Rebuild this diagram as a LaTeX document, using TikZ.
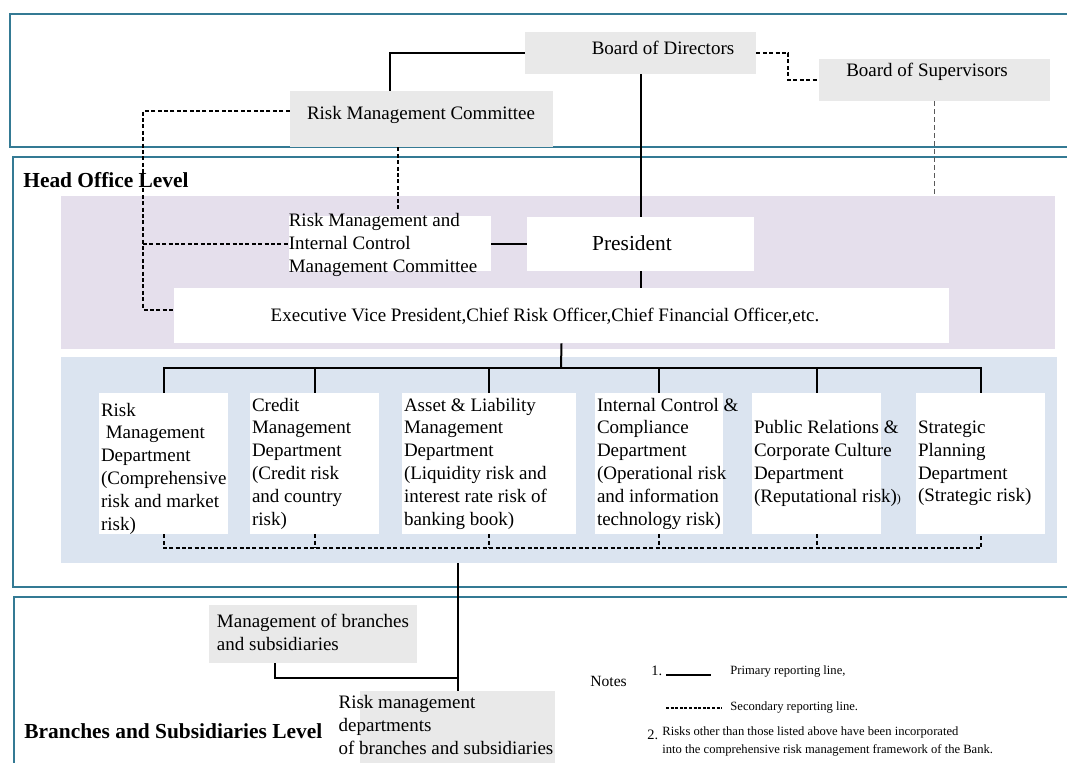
\documentclass[tikz,border=0pt]{standalone}
\usepackage{fontspec}
\setmainfont{Liberation Serif}
\usepackage{tikz}
\usetikzlibrary{fit,calc}
\definecolor{framec}{RGB}{52,122,148}
\definecolor{boxgray}{RGB}{233,233,233}
\definecolor{mauve}{RGB}{229,223,236}
\definecolor{paleblue}{RGB}{219,228,240}
\newcommand\unit[5]{\node[#1,fit={#3}] (#2) {}; \node[utext] (#2-t) at #4 {#5};}
\newcommand\dept[4][]{\node[dbox,fit={#3}] (#2) {}; \node[dtext,#1] (#2-t) at (#2.west) {#4};}

\begin{document}
\begin{tikzpicture}[x=0.5pt,y=-0.5pt]
\tikzstyle{every node}=[font=\fontsize{9.5}{11.4}\selectfont]
\tikzstyle{frame}=[draw=framec,line width=0.8pt]
\tikzstyle{band}=[inner sep=0pt]
\tikzstyle{gbox}=[fill=boxgray,inner sep=0pt]
\tikzstyle{wbox}=[fill=white,inner sep=0pt]
\tikzstyle{dbox}=[fill=white,inner sep=0pt]
\tikzstyle{utext}=[inner sep=0pt,align=left]
\tikzstyle{dtext}=[inner sep=0pt,align=left,anchor=west,xshift=1pt]
\tikzstyle{primary}=[draw,line width=1pt]
\tikzstyle{secondary}=[draw,line width=1pt,dash pattern=on 2pt off 1.2pt]
\tikzstyle{faint}=[draw=black!65,line width=0.5pt,dash pattern=on 2.5pt off 1.5pt]
\tikzstyle{level}=[font=\fontsize{10.7}{12.8}\selectfont\bfseries,anchor=west,inner sep=0pt]
\tikzstyle{note}=[font=\fontsize{6.3}{9}\selectfont,anchor=west,inner sep=0pt,align=left]
\useasboundingbox (0,0) rectangle (1067,762);

\draw[frame] (1067,14) -| (10,147) -- (1067,147);
\draw[frame] (1067,157) -| (13,587) -- (1067,587);
\draw[frame] (1067,597) -| (14,763);
\node[level] (headlevel) at (23,180) {Head Office Level};
\node[level] (branchlevel) at (24,731) {Branches and Subsidiaries Level};

\node[band,fill=mauve,fit={(61,196) (1055,349)}] (execband) {};
\node[band,fill=paleblue,fit={(61,357) (1057,563)}] (deptband) {};

\unit{gbox}{bod}{(525,32) (756,74)}{(663,48)}{Board of Directors}
\unit{gbox}{bos}{(819,59) (1050,101)}{(927,72)}{Board of Supervisors}
\unit{gbox}{rmc}{(290,91) (553,147)}{(421,115)}{Risk Management Committee}
\unit{wbox}{rmicmc}{(289,216) (491,271)}{(383,245)}{Risk Management and\\Internal Control\\Management Committee}
\unit{wbox}{pres}{(527,217) (754,271)}{(632,243)}{\fontsize{10.7}{12}\selectfont President}
\unit{wbox}{evp}{(174,288) (949,343)}{(545,316)}{Executive Vice President,Chief Risk Officer,Chief Financial Officer,etc.}

\dept[yshift=-2.5pt]{d1}{(99,393) (228,534)}{Risk\\~Management\\Department\\(Comprehensive\\risk and market\\risk)}
\dept{d2}{(250,393) (379,534)}{Credit\\Management\\Department\\(Credit risk\\and country\\risk)}
\dept{d3}{(402,393) (576,534)}{Asset \& Liability\\Management\\Department\\(Liquidity risk and\\interest rate risk of\\banking book)}
\dept{d4}{(595,393) (723,534)}{Internal Control \&\\Compliance\\Department\\(Operational risk\\and information\\technology risk)}
\dept{d5}{(752,393) (881,534)}{Public Relations \&\\Corporate Culture\\Department\\(Reputational risk){\fontsize{6}{7}\selectfont)}}
\dept{d6}{(916,393) (1045,534)}{Strategic\\Planning\\Department\\(Strategic risk)}

\unit{gbox}{mbs}{(209,605) (417,663)}{(313,632)}{Management of branches\\and subsidiaries}
\unit{gbox}{rmd}{(360,691) (555,763)}{(446,725)}{Risk management\\departments\\of branches and subsidiaries}

\coordinate (rail) at (143,111);
\coordinate (bus) at (561,368);
\coordinate (dbus) at (561,548);
\coordinate (trunk) at (458,678);

\draw[primary] (bod.west) -| (390,0 |- rmc.north);
\draw[secondary] (bod.east) -- ++(32,0) |- (bos.west);
\draw[primary] (bod.south) -- (pres.north);
\draw[faint] (bos.south) -- (bos.south |- execband.north);
\draw[secondary] ([yshift=4pt]rmc.west) -- (rail) |- ([yshift=3pt]evp.west);
\draw[secondary] (rail |- rmicmc.west) -- (rmicmc.west);
\draw[secondary] (398,0 |- rmc.south) -- (398,210);
\draw[primary] (rmicmc.east) -- (rmicmc.east -| pres.west);
\draw[primary] (pres.south) -- (pres.south |- evp.north);
\draw[primary] (evp.south) -- (bus);
\draw[primary] (d1.north) |- (bus) -| (d6.north);
\foreach \d in {d2,d3,d4,d5}
  \draw[primary] (\d.north) -- (\d.north |- bus);
\draw[secondary] (d1.south) |- (dbus) -| (d6.south);
\foreach \d in {d2,d3,d4,d5}
  \draw[secondary] (\d.south) -- (\d.south |- dbus);
\draw[primary] (458,0 |- deptband.south) -- (trunk) -- (trunk |- rmd.north);
\draw[primary] (275,0 |- mbs.south) |- (trunk);

\node[note,font=\fontsize{7.8}{9}\selectfont] (notes) at (590,681) {Notes};
\node[note,font=\fontsize{7.2}{9}\selectfont] (n1) at (651,671) {1.};
\coordinate (l1a) at (666,675);
\coordinate (l1b) at (711,675);
\coordinate (l2a) at (666,708);
\coordinate (l2b) at (722,708);
\draw[primary,line width=0.7pt] (l1a) -- (l1b);
\draw[secondary,line width=0.7pt,dash pattern=on 1.5pt off 0.8pt] (l2a) -- (l2b);
\node[note] (prim) at (730,671) {Primary reporting line,};
\node[note] (sec) at (730,707) {Secondary reporting line.};
\node[note,font=\fontsize{7.2}{9}\selectfont] (n2) at (647,735) {2.};
\node[note] (n2t) at (662,741) {Risks other than those listed above have been incorporated\\into the comprehensive risk management framework of the Bank.};
\end{tikzpicture}
\end{document}
